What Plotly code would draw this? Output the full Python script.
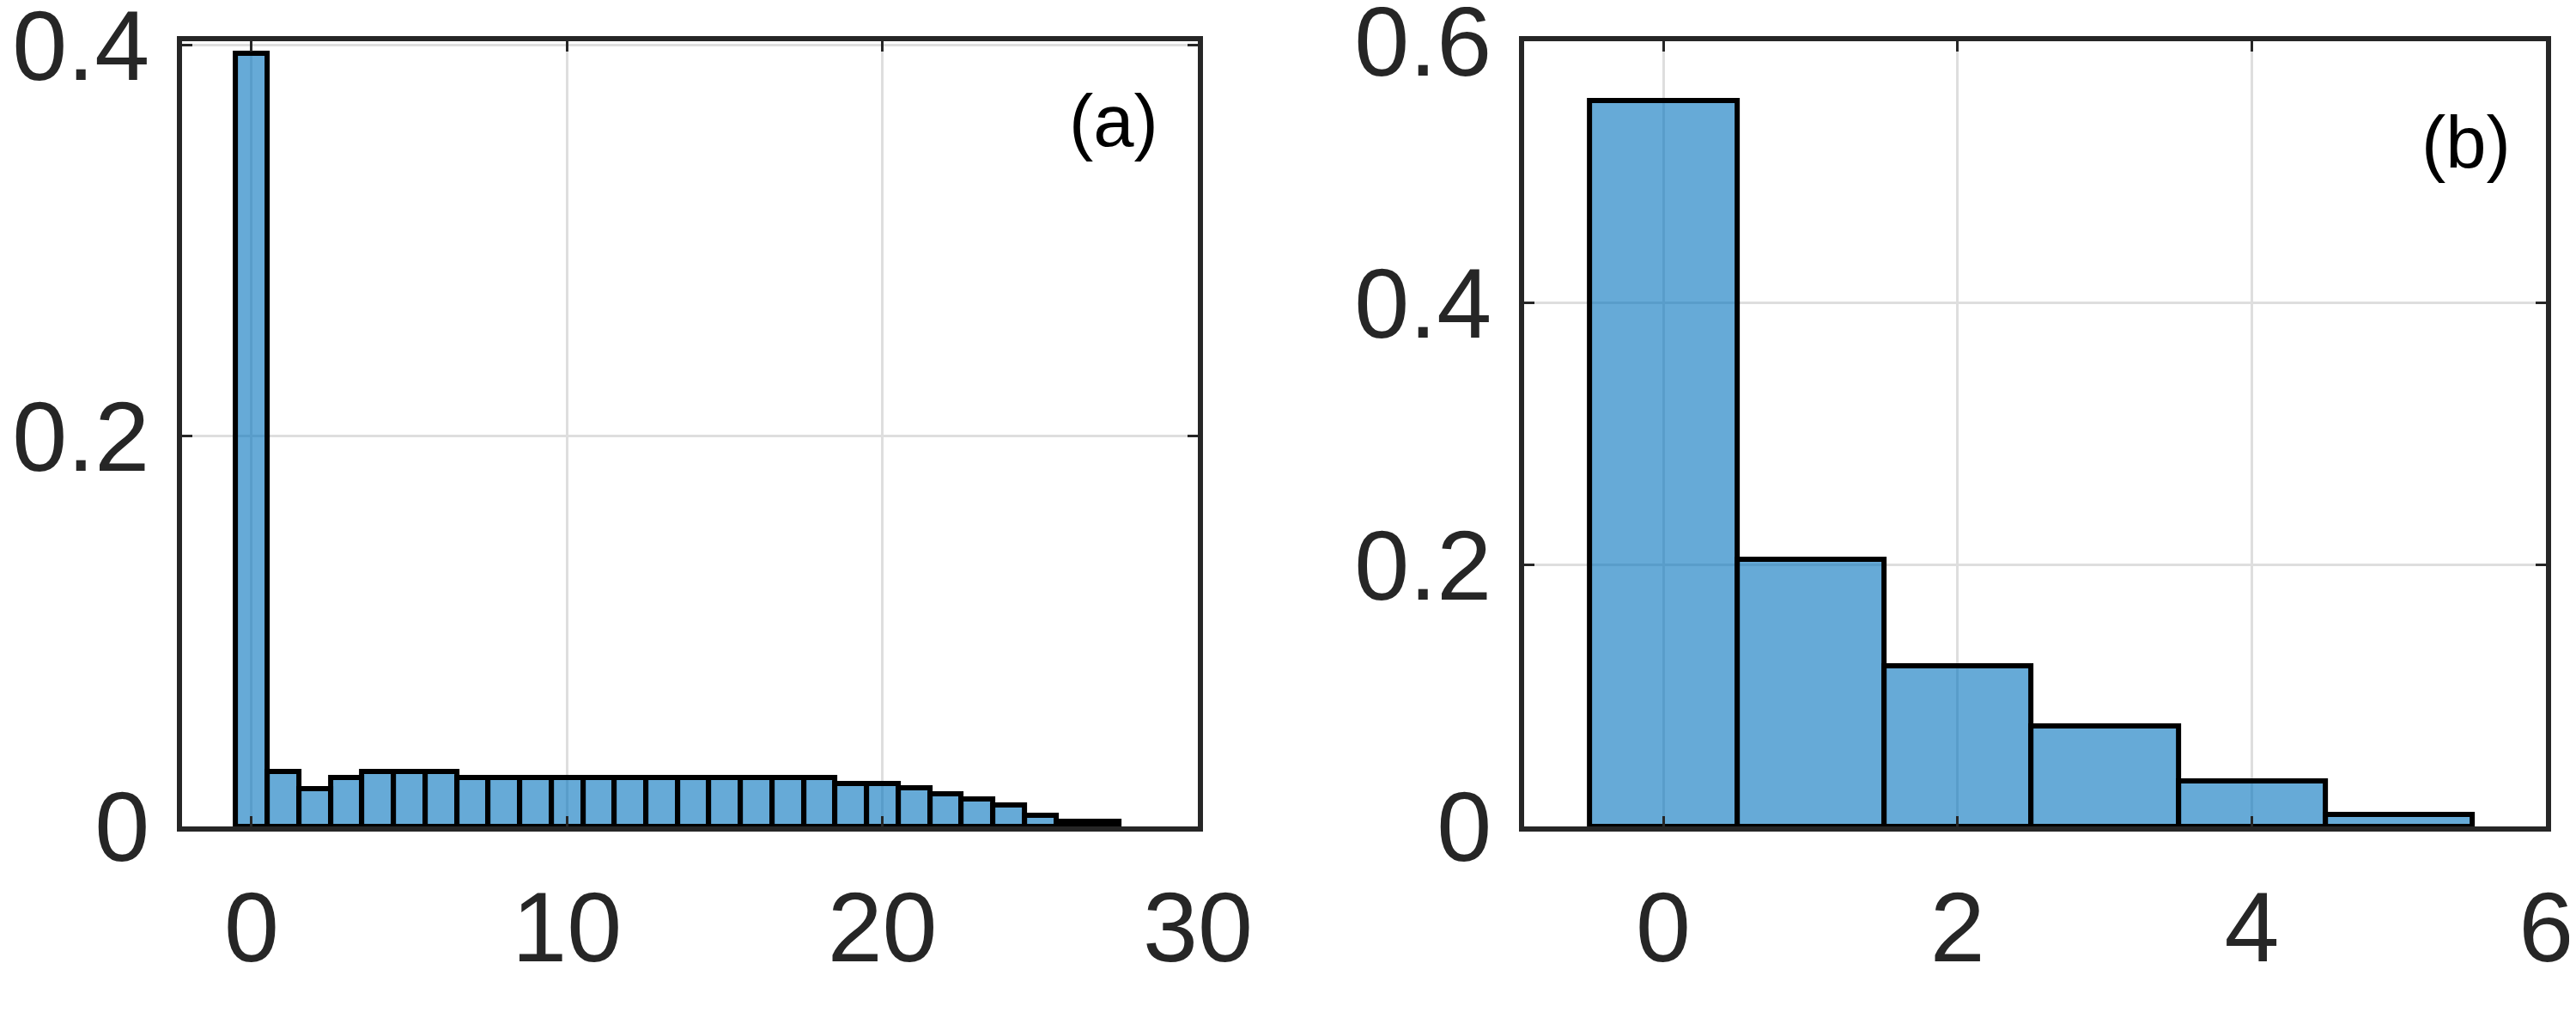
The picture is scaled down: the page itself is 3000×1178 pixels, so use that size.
import plotly.graph_objects as go

# 1. values (probability per integer bin)
bins_a = [0, 1, 2, 3, 4, 5, 6, 7, 8, 9, 10, 11, 12, 13,
          14, 15, 16, 17, 18, 19, 20, 21, 22, 23, 24, 25, 26, 27]
prob_a = [0.396, 0.0283, 0.0195, 0.0252, 0.0283, 0.0283, 0.0283,
          0.0252, 0.0252, 0.0252, 0.0252, 0.0252, 0.0252, 0.0252,
          0.0252, 0.0252, 0.0252, 0.0252, 0.0252, 0.022, 0.022,
          0.020, 0.0168, 0.0142, 0.011, 0.0058, 0.0027, 0.0027]

bins_b = [0, 1, 2, 3, 4, 5]
prob_b = [0.555, 0.204, 0.123, 0.077, 0.035, 0.009]

ticks_a_x = [0, 10, 20, 30]
ticks_a_y = [0, 0.2, 0.4]
ticks_b_x = [0, 2, 4, 6]
ticks_b_y = [0, 0.2, 0.4, 0.6]

panel_labels = ["(a)", "(b)"]

# 2. style (matlab-ish histogram look)
face = "rgba(0,114,189,0.6)"
edge = "black"
axis_col = "#262626"
grid_col = "#dedede"
font = "Liberation Sans, Arial, sans-serif"

fig = go.Figure()
fig.add_trace(go.Bar(x=bins_a, y=prob_a, width=1,
                     marker=dict(color=face, line=dict(color=edge, width=6)),
                     xaxis="x", yaxis="y", showlegend=False))
fig.add_trace(go.Bar(x=bins_b, y=prob_b, width=1,
                     marker=dict(color=face, line=dict(color=edge, width=6)),
                     xaxis="x2", yaxis="y2", showlegend=False))


def axis_style(tickvals, rng, domain, anchor, standoff):
    return dict(range=rng, domain=domain, anchor=anchor,
                tickmode="array", tickvals=tickvals,
                showline=True, linecolor=axis_col, linewidth=6, mirror="ticks",
                ticks="inside", ticklen=12, tickwidth=3, tickcolor=axis_col,
                showgrid=True, gridcolor=grid_col, gridwidth=3,
                zeroline=False, automargin=False,
                ticklabeloverflow="allow", ticklabelstandoff=standoff,
                tickfont=dict(family=font, size=115, color=axis_col))


# page body has an 8px margin, so the figure is a bit smaller than the window
ydom = [0.1790, 0.9656]
fig.update_layout(
    width=2984, height=1162,
    margin=dict(l=0, r=0, t=0, b=0),
    paper_bgcolor="white", plot_bgcolor="white",
    bargap=0,
    xaxis=axis_style(ticks_a_x, [-2.2, 30], [0.0684, 0.4648], "y", 13),
    yaxis=axis_style(ticks_a_y, [0, 0.402], ydom, "x", 9),
    xaxis2=axis_style(ticks_b_x, [-0.945, 6], [0.5922, 0.9910], "y2", 13),
    yaxis2=axis_style(ticks_b_y, [0, 0.6], ydom, "x2", 9),
)

# 3. panel labels
fig.add_annotation(text=panel_labels[0], xref="x domain", yref="y domain",
                   x=0.917, y=0.899, xanchor="center", yanchor="middle",
                   showarrow=False,
                   font=dict(family=font, size=85, color="black"))
fig.add_annotation(text=panel_labels[1], xref="x2 domain", yref="y2 domain",
                   x=0.922, y=0.871, xanchor="center", yanchor="middle",
                   showarrow=False,
                   font=dict(family=font, size=85, color="black"))

fig.write_html("out.html")
